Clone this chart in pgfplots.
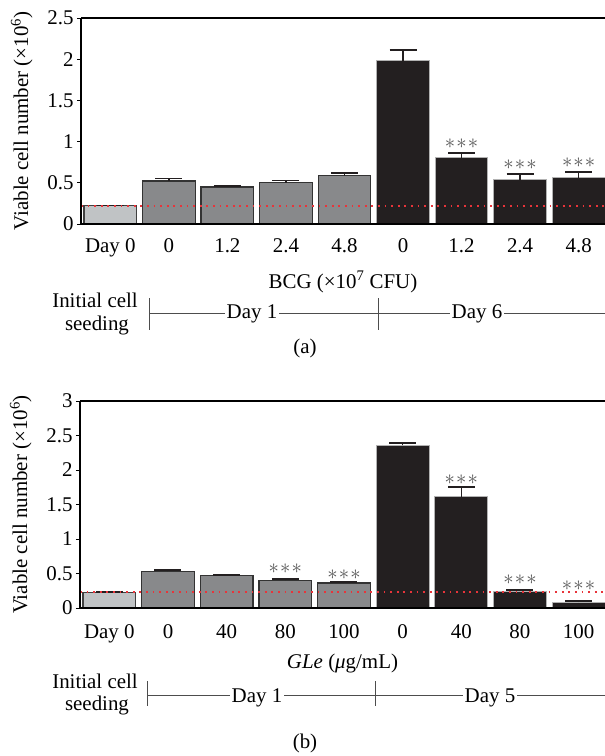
\documentclass[border=0pt]{standalone}
\usepackage{fontspec}
\setmainfont{Liberation Serif}
\usepackage{pgfplots}
\usepackage{pgfplotstable}
\pgfplotsset{compat=1.18}

\definecolor{barlight}{HTML}{C0C3C5}
\definecolor{bargray}{HTML}{88898B}
\definecolor{barblack}{HTML}{231F20}
\definecolor{refred}{HTML}{E8343A}
\definecolor{lineg}{HTML}{4D4D4D}
\definecolor{stargray}{HTML}{555555}

% panel (a): BCG
\pgfplotstableread{
x y e
0 0.221 0.004
}\aDayZero
\pgfplotstableread{
x y e
1 0.522 0.030
2 0.450 0.012
3 0.502 0.025
4 0.587 0.032
}\aDayOne
\pgfplotstableread{
x y e
5 1.982 0.132
6 0.804 0.060
7 0.535 0.068
8 0.559 0.076
}\aDaySix

% panel (b): GLe
\pgfplotstableread{
x y e
0 0.222 0.012
}\bDayZero
\pgfplotstableread{
x y e
1 0.531 0.025
2 0.469 0.014
3 0.400 0.025
4 0.362 0.020
}\bDayOne
\pgfplotstableread{
x y e
5 2.357 0.039
6 1.609 0.145
7 0.246 0.020
8 0.087 0.010
}\bDayFive

\newcommand{\lblfont}{\fontsize{21}{24}\selectfont}
\newcommand{\stars}{{\fontsize{22}{24}\selectfont\textcolor{stargray}{${\ast}\mkern1mu{\ast}\mkern1mu{\ast}$}}}

\pgfplotsset{
  cellaxis/.style={
    scale only axis, width=524bp,
    xmin=-0.5, xmax=8.45, ymin=0,
    axis on top,
    axis x line=box, axis y line=left,
    axis line style={-, line width=1.4bp, black},
    xtick={0,...,8}, xtick style={draw=none},
    tick align=outside, ytick style={line width=1bp, black},
    major tick length=4bp,
    tick label style={font=\lblfont},
    label style={font=\lblfont},
    /pgf/number format/assume math mode=true,
    ylabel={Viable cell number (×10\textsuperscript{6})},
    ylabel style={at={(axis description cs:-0.113,0.5)}, anchor=center},
    clip=false,
  },
  barbase/.style={ybar, bar shift=0pt, bar width=0.9,
    error bars/y dir=plus, error bars/y explicit,
    error bars/error bar style={line width=1.4bp, barblack},
    error bars/error mark options={rotate=90, mark size=13.5bp, line width=1.8bp, barblack}},
  barlt/.style={barbase, fill=barlight, draw=black!75, line width=1.2bp},
  bargr/.style={barbase, fill=bargray, draw=black!80, line width=1.2bp},
  barbk/.style={barbase, fill=barblack, draw=black!30, line width=1bp},
  redline/.style={refred, line width=1.6bp, dash pattern=on 1.8bp off 4.8bp},
}

\begin{document}
\begin{tikzpicture}

% ---------- (a) ----------
\begin{axis}[cellaxis, at={(81bp,-224bp)}, anchor=south west, height=206bp,
  ymax=2.5, ytick={0,0.5,1,1.5,2,2.5},
  xticklabels={Day 0,0,1.2,2.4,4.8,0,1.2,2.4,4.8},
  xticklabel style={anchor=base, yshift=-24bp},
  xlabel={BCG (×10\textsuperscript{7} CFU)},
  xlabel style={at={(axis description cs:0.5,-0.311)}, anchor=base},
]
\addplot[barlt] table[x=x,y=y,y error=e] {\aDayZero};
\addplot[bargr] table[x=x,y=y,y error=e] {\aDayOne};
\addplot[barbk] table[x=x,y=y,y error=e] {\aDaySix};
\addplot[redline] coordinates {(-0.5,0.221) (8.45,0.221)};
\node at (axis cs:6,0.979) {\stars};
\node at (axis cs:7,0.724) {\stars};
\node at (axis cs:8,0.749) {\stars};
\end{axis}

% ---------- (b) ----------
\begin{axis}[cellaxis, at={(80bp,-608bp)}, anchor=south west, height=207bp,
  width=525bp,
  ymax=3, ytick={0,0.5,1,1.5,2,2.5,3},
  xticklabels={Day 0,0,40,80,100,0,40,80,100},
  xticklabel style={anchor=base, yshift=-26bp},
  xlabel={\textit{GLe} (\textit{μ}g/mL)},
  xlabel style={at={(axis description cs:0.5,-0.29)}, anchor=base},
]
\addplot[barlt] table[x=x,y=y,y error=e] {\bDayZero};
\addplot[bargr] table[x=x,y=y,y error=e] {\bDayOne};
\addplot[barbk] table[x=x,y=y,y error=e] {\bDayFive};
\addplot[redline] coordinates {(-0.5,0.232) (8.45,0.232)};
\node at (axis cs:3,0.575) {\stars};
\node at (axis cs:4,0.490) {\stars};
\node at (axis cs:6,1.865) {\stars};
\node at (axis cs:7,0.406) {\stars};
\node at (axis cs:8,0.319) {\stars};
\end{axis}

\begin{scope}[x=1bp, y=1bp, lineg, line width=1bp, font=\lblfont]
% timeline (a)
\draw (149,-313) -- (605,-313);
\draw (149,-298) -- (149,-330);
\draw (378,-298) -- (378,-330);
\node[anchor=base, text=black, fill=white, inner xsep=1.5bp] at (252,-318) {Day 1};
\node[anchor=base, text=black, fill=white, inner xsep=1.5bp] at (477,-318) {Day 6};
\node[anchor=base, text=black] at (95,-307) {Initial cell};
\node[anchor=base, text=black] at (97,-330) {seeding};
\node[text=black] at (305,-348) {(a)};
% timeline (b)
\draw (147,-695) -- (605,-695);
\draw (147,-681) -- (147,-706);
\draw (375,-681) -- (375,-706);
\node[anchor=base, text=black, fill=white, inner xsep=1.5bp] at (257,-702) {Day 1};
\node[anchor=base, text=black, fill=white, inner xsep=1.5bp] at (490,-702) {Day 5};
\node[anchor=base, text=black] at (95,-688) {Initial cell};
\node[anchor=base, text=black] at (97,-710) {seeding};
\node[text=black] at (305,-743) {(b)};
\end{scope}

\pgfresetboundingbox
\path[use as bounding box] (0,0) rectangle (605bp,-756bp);
\end{tikzpicture}
\end{document}
